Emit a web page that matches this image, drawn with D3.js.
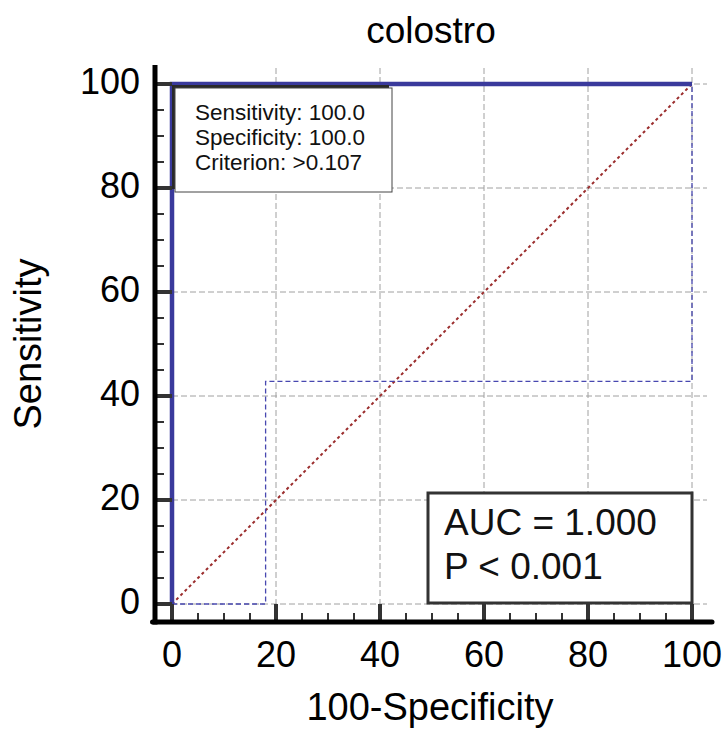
<!DOCTYPE html>
<html>
<head>
<meta charset="utf-8">
<script src="https://cdn.jsdelivr.net/npm/d3@7/dist/d3.min.js"></script>
<style>
  html, body { margin: 0; padding: 0; background: #fff; }
  svg { display: block; font-family: "Liberation Sans", Arial, sans-serif; }
</style>
</head>
<body>
<svg id="chart" width="724" height="729"></svg>
<script>
// ---- data ----
const title = "colostro";
const xLabel = "100-Specificity";
const yLabel = "Sensitivity";
const majorTicks = [0, 20, 40, 60, 80, 100];
const minorTicks = d3.range(0, 101, 5).filter(v => v % 20 !== 0);
const rocX = [0, 0, 100];
const rocY = [0, 100, 100];
const ciUpperX = [0, 0, 100];
const ciUpperY = [0, 100, 100];
const ciLowerX = [0, 18, 18, 100, 100];
const ciLowerY = [0, 0, 42.8, 42.8, 100];
const refX = [0, 100];
const refY = [0, 100];
const legendLines = ["Sensitivity: 100.0", "Specificity: 100.0", "Criterion: >0.107"];
const aucLines = ["AUC = 1.000", "P < 0.001"];

// ---- scales ----
const svg = d3.select("#chart");
const x = d3.scaleLinear().domain([0, 100]).range([172, 692]);
const y = d3.scaleLinear().domain([0, 100]).range([604, 84]);
const axisX = 155;   // left axis line position
const axisY = 622;   // bottom axis line position
const plotTop = 68, plotRight = 707;

const line = d3.line().x(d => x(d[0])).y(d => y(d[1]));

// gridlines
const grid = svg.append("g").attr("stroke", "#a0a0a0").attr("stroke-width", 1).attr("stroke-dasharray", "6,3");
grid.selectAll(".gv").data(majorTicks.filter(v => v > 0)).join("line")
  .attr("x1", d => x(d)).attr("x2", d => x(d)).attr("y1", plotTop).attr("y2", y(0));
grid.selectAll(".gh").data(majorTicks).join("line")
  .attr("x1", x(0)).attr("x2", plotRight).attr("y1", d => y(d)).attr("y2", d => y(d));

// reference diagonal
svg.append("path").datum(refX.map((v, i) => [v, refY[i]]))
  .attr("d", line).attr("fill", "none").attr("stroke", "#9b2d2d")
  .attr("stroke-width", 2).attr("stroke-dasharray", "3,3");

// confidence bounds
svg.append("path").datum(ciLowerX.map((v, i) => [v, ciLowerY[i]]))
  .attr("d", line).attr("fill", "none").attr("stroke", "#4848b0")
  .attr("stroke-width", 1.3).attr("stroke-dasharray", "5,3");
svg.append("path").datum(ciUpperX.map((v, i) => [v, ciUpperY[i]]))
  .attr("d", line).attr("fill", "none").attr("stroke", "#4848b0")
  .attr("stroke-width", 1.3).attr("stroke-dasharray", "5,3");

// ROC curve
svg.append("path").datum(rocX.map((v, i) => [v, rocY[i]]))
  .attr("d", line).attr("fill", "none").attr("stroke", "#3a3a9c")
  .attr("stroke-width", 4.5).attr("stroke-linejoin", "miter");

// ticks
const tk = svg.append("g").attr("stroke", "#333");
tk.selectAll(".ym").data(majorTicks).join("line")
  .attr("x1", axisX).attr("x2", x(0)).attr("y1", d => y(d)).attr("y2", d => y(d)).attr("stroke-width", 4);
tk.selectAll(".yn").data(minorTicks).join("line")
  .attr("x1", axisX).attr("x2", axisX + 9).attr("y1", d => y(d)).attr("y2", d => y(d)).attr("stroke-width", 2);
tk.selectAll(".xm").data(majorTicks).join("line")
  .attr("x1", d => x(d)).attr("x2", d => x(d)).attr("y1", axisY).attr("y2", y(0)).attr("stroke-width", 4);
tk.selectAll(".xn").data(minorTicks).join("line")
  .attr("x1", d => x(d)).attr("x2", d => x(d)).attr("y1", axisY).attr("y2", axisY - 9).attr("stroke-width", 2);

// axis lines
svg.append("line").attr("x1", axisX).attr("x2", axisX).attr("y1", 65).attr("y2", axisY + 2.5)
  .attr("stroke", "#000").attr("stroke-width", 5);
svg.append("line").attr("x1", axisX - 2.5).attr("x2", 712).attr("y1", axisY).attr("y2", axisY)
  .attr("stroke", "#000").attr("stroke-width", 5).attr("stroke-linecap", "round");

// tick labels
svg.append("g").selectAll("text").data(majorTicks).join("text")
  .attr("x", 140).attr("y", d => y(d) + 10).attr("text-anchor", "end")
  .attr("font-size", 36).attr("fill", "#000").text(d => d);
svg.append("g").selectAll("text").data(majorTicks).join("text")
  .attr("x", d => x(d)).attr("y", 667).attr("text-anchor", "middle")
  .attr("font-size", 36).attr("fill", "#000").text(d => d);

// axis titles
svg.append("text").attr("x", (x(0) + x(100)) / 2 - 2).attr("y", 720).attr("text-anchor", "middle")
  .attr("font-size", 38).attr("fill", "#000").text(xLabel);
svg.append("text").attr("transform", `translate(41,${(y(0) + y(100)) / 2}) rotate(-90)`)
  .attr("text-anchor", "middle").attr("font-size", 38).attr("fill", "#000").text(yLabel);
svg.append("text").attr("x", (x(0) + x(100)) / 2 - 1).attr("y", 43).attr("text-anchor", "middle")
  .attr("font-size", 37).attr("fill", "#000").text(title);

// legend box (with offset shadow)
const lb = { x0: x(0) + 3, y0: y(100) + 4, w: 217, h: 104 };
svg.append("rect").attr("x", lb.x0 - 3).attr("y", lb.y0 - 3).attr("width", lb.w).attr("height", lb.h).attr("fill", "#2a2a2a");
svg.append("rect").attr("x", lb.x0).attr("y", lb.y0).attr("width", lb.w).attr("height", lb.h)
  .attr("fill", "#fff").attr("stroke", "#444").attr("stroke-width", 1);
svg.append("g").selectAll("text").data(legendLines).join("text")
  .attr("x", lb.x0 + 20).attr("y", (d, i) => lb.y0 + 32 + i * 25)
  .attr("font-size", 22.5).attr("fill", "#111").text(d => d);

// AUC box
const ab = { x0: 428, y0: 493, x1: x(100), y1: y(0) - 1 };
svg.append("rect").attr("x", ab.x0).attr("y", ab.y0).attr("width", ab.x1 - ab.x0).attr("height", ab.y1 - ab.y0)
  .attr("fill", "#fff").attr("stroke", "#333").attr("stroke-width", 3);
svg.append("g").selectAll("text").data(aucLines).join("text")
  .attr("x", ab.x0 + 16).attr("y", (d, i) => 535 + i * 44)
  .attr("font-size", 37).attr("fill", "#111").text(d => d);
</script>
</body>
</html>
